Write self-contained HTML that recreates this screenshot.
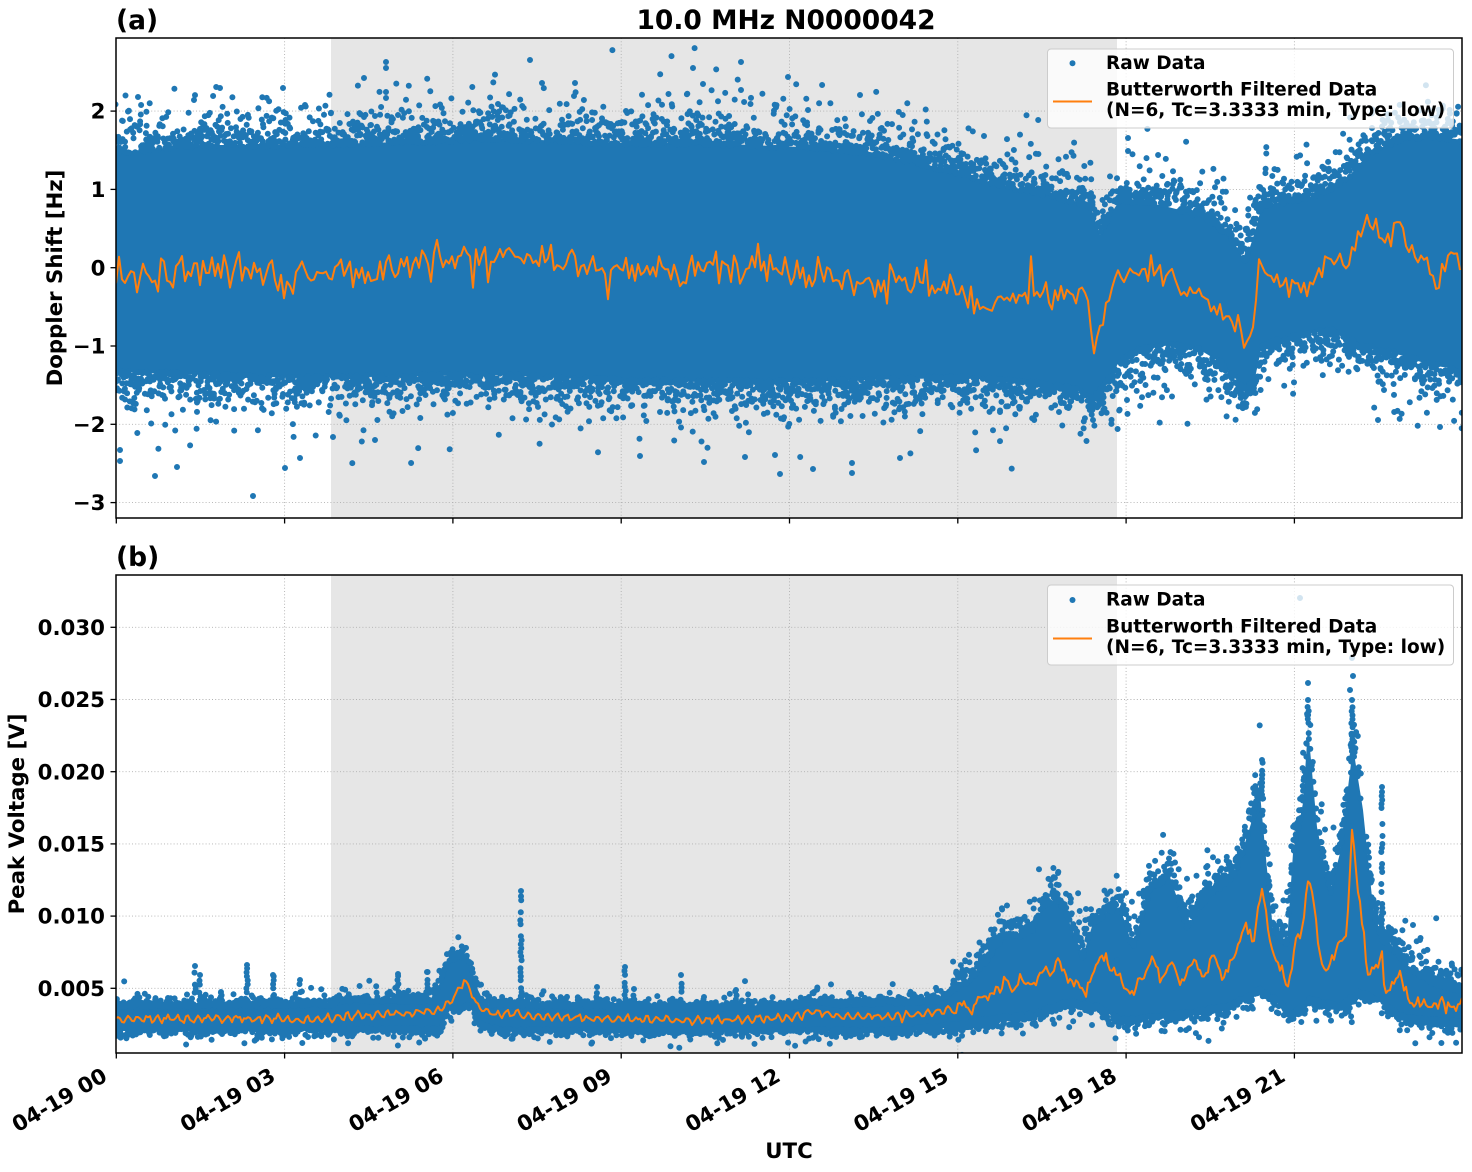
<!DOCTYPE html>
<html><head><meta charset="utf-8">
<style>
html,body{margin:0;padding:0;background:#fff;}
svg{display:block;}
text{font-family:"DejaVu Sans","Liberation Sans",sans-serif;font-weight:bold;fill:#000;}
</style></head><body>
<svg id="s" width="1472" height="1172" viewBox="0 0 1472 1172" xmlns="http://www.w3.org/2000/svg">
<defs>
<clipPath id="ca"><rect x="116" y="38" width="1346" height="480"/></clipPath>
<clipPath id="cb"><rect x="116" y="575" width="1346" height="478"/></clipPath>
</defs>
<rect width="1472" height="1172" fill="#fff"/>

<!-- ===== Panel A ===== -->
<rect x="331" y="38" width="786" height="480" fill="#e6e6e6"/>
<g stroke="#b0b0b0" stroke-width="0.9" stroke-dasharray="1,2.2" fill="none">
<line x1="284.6" y1="38" x2="284.6" y2="518"/><line x1="452.9" y1="38" x2="452.9" y2="518"/>
<line x1="621.2" y1="38" x2="621.2" y2="518"/><line x1="789.5" y1="38" x2="789.5" y2="518"/>
<line x1="957.8" y1="38" x2="957.8" y2="518"/><line x1="1126.1" y1="38" x2="1126.1" y2="518"/>
<line x1="1294.4" y1="38" x2="1294.4" y2="518"/>
<line x1="116" y1="111.1" x2="1462" y2="111.1"/><line x1="116" y1="189.4" x2="1462" y2="189.4"/>
<line x1="116" y1="267.7" x2="1462" y2="267.7"/><line x1="116" y1="346" x2="1462" y2="346"/>
<line x1="116" y1="424.3" x2="1462" y2="424.3"/><line x1="116" y1="502.6" x2="1462" y2="502.6"/>
</g>
<g clip-path="url(#ca)">
<polygon fill="#1f77b4" points="116,152 200,145 300,145 400,142 500,138 600,143 700,143 800,147 870,152 950,170 1000,185 1050,195 1090,205 1100,235 1110,215 1120,200 1160,205 1200,215 1230,235 1245,262 1255,232 1262,205 1300,200 1330,190 1350,175 1370,152 1400,140 1430,135 1462,140 1462,370 1430,365 1400,355 1360,345 1330,330 1300,335 1262,345 1255,378 1245,392 1235,378 1220,362 1200,350 1170,345 1140,350 1120,360 1110,378 1093,400 1080,390 1050,385 1000,380 950,378 870,380 800,382 700,382 600,380 500,375 300,378 116,372"/>
<path id="da" fill="#1f77b4" d=""/>
<polyline id="oa" fill="none" stroke="#ff7f0e" stroke-width="2" stroke-linejoin="round" points="116,272 200,270 300,272 400,268 450,262 500,250 550,260 600,268 700,270 750,268 800,272 850,280 900,283 950,290 973,303 990,305 1013,295 1047,297 1063,292 1083,295 1088,307 1093,345 1100,335 1113,283 1123,270 1143,270 1167,277 1197,293 1230,317 1240,335 1245,350 1252,335 1260,273 1283,283 1307,287 1330,263 1350,257 1367,223 1383,240 1403,220 1410,257 1423,253 1440,287 1450,253 1462,257"/>
</g>
<rect x="116" y="38" width="1346" height="480" fill="none" stroke="#000" stroke-width="1.5"/>
<g stroke="#000" stroke-width="1.3">
<line x1="110.5" y1="111.1" x2="116" y2="111.1"/><line x1="110.5" y1="189.4" x2="116" y2="189.4"/>
<line x1="110.5" y1="267.7" x2="116" y2="267.7"/><line x1="110.5" y1="346" x2="116" y2="346"/>
<line x1="110.5" y1="424.3" x2="116" y2="424.3"/><line x1="110.5" y1="502.6" x2="116" y2="502.6"/>
<line x1="116.3" y1="518" x2="116.3" y2="523.5"/><line x1="284.6" y1="518" x2="284.6" y2="523.5"/>
<line x1="452.9" y1="518" x2="452.9" y2="523.5"/><line x1="621.2" y1="518" x2="621.2" y2="523.5"/>
<line x1="789.5" y1="518" x2="789.5" y2="523.5"/><line x1="957.8" y1="518" x2="957.8" y2="523.5"/>
<line x1="1126.1" y1="518" x2="1126.1" y2="523.5"/><line x1="1294.4" y1="518" x2="1294.4" y2="523.5"/>
</g>
<g font-size="21.3" text-anchor="end">
<text x="105.5" y="118.7">2</text><text x="105.5" y="197">1</text><text x="105.5" y="275.3">0</text>
<text x="105.5" y="353.6">−1</text><text x="105.5" y="431.9">−2</text><text x="105.5" y="510.2">−3</text>
</g>
<text x="62" y="278" font-size="21.3" text-anchor="middle" transform="rotate(-90 62 278)">Doppler Shift [Hz]</text>
<text x="116" y="29" font-size="26.5">(a)</text>
<text x="786" y="29" font-size="26.5" text-anchor="middle">10.0 MHz N0000042</text>
<rect x="1047.5" y="49" width="406" height="79" rx="3.5" fill="#fff" fill-opacity="0.8" stroke="#cccccc" stroke-width="1"/>
<circle cx="1072.5" cy="63.3" r="3" fill="#1f77b4"/>
<line x1="1053" y1="101.5" x2="1092" y2="101.5" stroke="#ff7f0e" stroke-width="2"/>
<g font-size="18.5">
<text x="1106" y="69">Raw Data</text>
<text x="1106" y="95.3">Butterworth Filtered Data</text>
<text x="1106" y="116">(N=6, Tc=3.3333 min, Type: low)</text>
</g>

<!-- ===== Panel B ===== -->
<rect x="331" y="575" width="786" height="478" fill="#e6e6e6"/>
<g stroke="#b0b0b0" stroke-width="0.9" stroke-dasharray="1,2.2" fill="none">
<line x1="284.6" y1="575" x2="284.6" y2="1053"/><line x1="452.9" y1="575" x2="452.9" y2="1053"/>
<line x1="621.2" y1="575" x2="621.2" y2="1053"/><line x1="789.5" y1="575" x2="789.5" y2="1053"/>
<line x1="957.8" y1="575" x2="957.8" y2="1053"/><line x1="1126.1" y1="575" x2="1126.1" y2="1053"/>
<line x1="1294.4" y1="575" x2="1294.4" y2="1053"/>
<line x1="116" y1="627.3" x2="1462" y2="627.3"/><line x1="116" y1="699.5" x2="1462" y2="699.5"/>
<line x1="116" y1="771.7" x2="1462" y2="771.7"/><line x1="116" y1="843.9" x2="1462" y2="843.9"/>
<line x1="116" y1="916.1" x2="1462" y2="916.1"/><line x1="116" y1="988.3" x2="1462" y2="988.3"/>
</g>
<g clip-path="url(#cb)">
<polygon fill="#1f77b4" points="116,1005 331,1004 340,1000 430,1000 439,985 448,962 458,955 468,958 478,990 485,1004 600,1005 640,1008 790,1007 815,1000 840,1004 940,1000 954,988 968,982 983,965 994,949 1004,936 1018,936 1033,929 1043,906 1058,899 1068,919 1083,956 1093,923 1104,913 1120,907 1133,947 1150,887 1170,877 1187,927 1210,893 1233,877 1247,837 1260,793 1268,880 1273,930 1287,943 1293,853 1303,803 1308,727 1317,827 1330,893 1340,853 1353,747 1363,810 1373,907 1382,940 1390,943 1407,967 1433,983 1462,990 1462,1023 1420,1020 1400,1017 1380,1000 1360,993 1340,1007 1310,1000 1290,1017 1280,1003 1260,990 1230,1007 1160,1017 1133,1020 1118,1020 1100,1008 1068,1002 1033,1015 1000,1018 954,1026 900,1031 500,1031 480,1025 470,1007 450,1010 440,1030 331,1030 116,1031"/>
<path id="db" fill="#1f77b4" d=""/>
<polyline id="ob" fill="none" stroke="#ff7f0e" stroke-width="2" stroke-linejoin="round" points="116,1019 331,1019 350,1016 400,1014 440,1010 450,1003 458,990 464,981 470,990 478,1007 490,1013 530,1016 600,1019 700,1020 790,1018 815,1010 840,1017 900,1016 940,1012 954,1010 961,1003 972,1008 983,995 994,998 1006,979 1013,992 1022,979 1029,985 1036,980 1045,967 1051,979 1058,956 1067,979 1076,982 1086,992 1097,962 1104,959 1113,972 1120,975 1127,993 1133,990 1140,983 1152,960 1160,983 1172,957 1180,985 1195,958 1203,980 1213,952 1223,983 1237,947 1245,918 1253,943 1262,885 1270,943 1282,973 1288,985 1297,937 1303,923 1308,880 1313,893 1320,960 1327,973 1337,947 1347,933 1352,832 1357,883 1363,927 1368,973 1377,968 1382,953 1385,993 1393,987 1400,973 1408,1000 1420,1003 1433,1007 1443,1002 1453,1007 1462,1003"/>
</g>
<rect x="116" y="575" width="1346" height="478" fill="none" stroke="#000" stroke-width="1.5"/>
<g stroke="#000" stroke-width="1.3">
<line x1="110.5" y1="627.3" x2="116" y2="627.3"/><line x1="110.5" y1="699.5" x2="116" y2="699.5"/>
<line x1="110.5" y1="771.7" x2="116" y2="771.7"/><line x1="110.5" y1="843.9" x2="116" y2="843.9"/>
<line x1="110.5" y1="916.1" x2="116" y2="916.1"/><line x1="110.5" y1="988.3" x2="116" y2="988.3"/>
<line x1="116.3" y1="1053" x2="116.3" y2="1058.5"/><line x1="284.6" y1="1053" x2="284.6" y2="1058.5"/>
<line x1="452.9" y1="1053" x2="452.9" y2="1058.5"/><line x1="621.2" y1="1053" x2="621.2" y2="1058.5"/>
<line x1="789.5" y1="1053" x2="789.5" y2="1058.5"/><line x1="957.8" y1="1053" x2="957.8" y2="1058.5"/>
<line x1="1126.1" y1="1053" x2="1126.1" y2="1058.5"/><line x1="1294.4" y1="1053" x2="1294.4" y2="1058.5"/>
</g>
<g font-size="21.3" text-anchor="end">
<text x="105" y="634.9">0.030</text><text x="105" y="707.1">0.025</text><text x="105" y="779.3">0.020</text>
<text x="105" y="851.5">0.015</text><text x="105" y="923.7">0.010</text><text x="105" y="995.9">0.005</text>
</g>
<text x="24" y="814" font-size="21.3" text-anchor="middle" transform="rotate(-90 24 814)">Peak Voltage [V]</text>
<text x="116" y="566" font-size="26.5">(b)</text>
<g font-size="21.3" text-anchor="end">
<text x="108.6" y="1080" transform="rotate(-30 108.6 1080)">04-19 00</text>
<text x="276.9" y="1080" transform="rotate(-30 276.9 1080)">04-19 03</text>
<text x="445.2" y="1080" transform="rotate(-30 445.2 1080)">04-19 06</text>
<text x="613.5" y="1080" transform="rotate(-30 613.5 1080)">04-19 09</text>
<text x="781.8" y="1080" transform="rotate(-30 781.8 1080)">04-19 12</text>
<text x="950.1" y="1080" transform="rotate(-30 950.1 1080)">04-19 15</text>
<text x="1118.4" y="1080" transform="rotate(-30 1118.4 1080)">04-19 18</text>
<text x="1286.7" y="1080" transform="rotate(-30 1286.7 1080)">04-19 21</text>
</g>
<text x="789" y="1158" font-size="21.3" text-anchor="middle">UTC</text>
<rect x="1047.5" y="585" width="406" height="80" rx="3.5" fill="#fff" fill-opacity="0.8" stroke="#cccccc" stroke-width="1"/>
<circle cx="1072.5" cy="600" r="3" fill="#1f77b4"/>
<line x1="1053" y1="638.5" x2="1092" y2="638.5" stroke="#ff7f0e" stroke-width="2"/>
<g font-size="18.5">
<text x="1106" y="605.7">Raw Data</text>
<text x="1106" y="632.5">Butterworth Filtered Data</text>
<text x="1106" y="653">(N=6, Tc=3.3333 min, Type: low)</text>
</g>
</svg>
<script>
(function(){
var seed=24681;
function R(){seed|=0;seed=seed+0x6D2B79F5|0;var t=Math.imul(seed^seed>>>15,1|seed);t=t+Math.imul(t^t>>>7,61|t)^t;return((t^t>>>14)>>>0)/4294967296;}
function G(){var u=R()||1e-9,v=R();return Math.sqrt(-2*Math.log(u))*Math.cos(2*Math.PI*v);}
function E(){return -Math.log(R()||1e-9);}
function I(L,x){if(x<=L[0][0])return L[0][1];for(var i=1;i<L.length;i++){if(x<=L[i][0]){var a=L[i-1],b=L[i];return a[1]+(b[1]-a[1])*(x-a[0])/(b[0]-a[0]);}}return L[L.length-1][1];}
function C(x,y){return "M"+(x-3).toFixed(1)+" "+y.toFixed(1)+"a3 3 0 1 0 6 0a3 3 0 1 0 -6 0";}
var AT=[[116,152],[200,145],[300,145],[400,142],[500,138],[600,143],[700,143],[800,147],[870,152],[950,170],[1000,185],[1050,195],[1090,205],[1100,235],[1110,215],[1120,200],[1160,205],[1200,215],[1230,235],[1245,262],[1255,232],[1262,205],[1300,200],[1330,190],[1350,175],[1370,152],[1400,140],[1430,135],[1462,140]];
var AB=[[116,372],[300,378],[500,375],[600,380],[700,382],[800,382],[870,380],[950,378],[1000,380],[1050,385],[1080,390],[1093,400],[1110,378],[1120,360],[1140,350],[1170,345],[1200,350],[1220,362],[1235,378],[1245,392],[1255,378],[1262,345],[1300,335],[1330,330],[1360,345],[1400,355],[1430,365],[1462,370]];
var OA=[[116,272],[200,270],[300,272],[400,268],[450,262],[500,250],[550,260],[600,268],[700,270],[750,268],[800,272],[850,280],[900,283],[950,290],[973,303],[990,305],[1013,295],[1047,297],[1063,292],[1083,295],[1088,307],[1093,345],[1100,335],[1113,283],[1123,270],[1143,270],[1167,277],[1197,293],[1230,317],[1240,335],[1245,350],[1252,335],[1260,273],[1283,283],[1307,287],[1330,263],[1350,257],[1367,223],[1383,240],[1403,220],[1410,257],[1423,253],[1440,287],[1450,253],[1462,257]];
var BT=[[116,1005],[331,1004],[340,1000],[430,1000],[439,985],[448,962],[458,955],[468,958],[478,990],[485,1004],[600,1005],[640,1008],[790,1007],[815,1000],[840,1004],[940,1000],[954,988],[968,982],[983,965],[994,949],[1004,936],[1018,936],[1033,929],[1043,906],[1058,899],[1068,919],[1083,956],[1093,923],[1104,913],[1120,907],[1133,947],[1150,887],[1170,877],[1187,927],[1210,893],[1233,877],[1247,837],[1260,793],[1268,880],[1273,930],[1287,943],[1293,853],[1303,803],[1308,727],[1317,827],[1330,893],[1340,853],[1353,747],[1363,810],[1373,907],[1382,940],[1390,943],[1407,967],[1433,983],[1462,990]];
var BB=[[116,1031],[331,1030],[440,1030],[450,1010],[470,1007],[480,1025],[500,1031],[900,1031],[954,1026],[1000,1018],[1033,1015],[1068,1002],[1100,1008],[1118,1020],[1133,1020],[1160,1017],[1230,1007],[1260,990],[1280,1003],[1290,1017],[1310,1000],[1340,1007],[1360,993],[1380,1000],[1400,1017],[1420,1020],[1462,1023]];
var OB=[[116,1019],[331,1019],[350,1016],[400,1014],[440,1010],[450,1003],[458,990],[464,981],[470,990],[478,1007],[490,1013],[530,1016],[600,1019],[700,1020],[790,1018],[815,1010],[840,1017],[900,1016],[940,1012],[954,1010],[961,1003],[972,1008],[983,995],[994,998],[1006,979],[1013,992],[1022,979],[1029,985],[1036,980],[1045,967],[1051,979],[1058,956],[1067,979],[1076,982],[1086,992],[1097,962],[1104,959],[1113,972],[1120,975],[1127,993],[1133,990],[1140,983],[1152,960],[1160,983],[1172,957],[1180,985],[1195,958],[1203,980],[1213,952],[1223,983],[1237,947],[1245,918],[1253,943],[1262,885],[1270,943],[1282,973],[1288,985],[1297,937],[1303,923],[1308,880],[1313,893],[1320,960],[1327,973],[1337,947],[1347,933],[1352,832],[1357,883],[1363,927],[1368,973],[1377,968],[1382,953],[1385,993],[1393,987],[1400,973],[1408,1000],[1420,1003],[1433,1007],[1443,1002],[1453,1007],[1462,1003]];
try{
var d=[],x,k,t,b,y;
// Panel A speckle: exponential fall-off from dense edge
for(x=116;x<=1462;x++){t=I(AT,x);b=I(AB,x);
 for(k=0;k<3;k++){
  if(R()<0.6){y=t+2-E()*13;if(y>34)d.push(C(x+R()*2-1,y));}
  if(R()<0.6){y=b-2+E()*13;if(y<522)d.push(C(x+R()*2-1,y));}
 }}
var OUTA=[[138,97],[194,100],[220,88],[283,88],[305,105],[386,62],[386,68],[386,92],[386,98],[398,115],[498,104],[530,60],[542,83],[575,83],[574,96],[626,111],[693,68],[703,84],[741,62],[741,90],[788,77],[808,110],[860,95],[984,136],[1128,138],[1128,151],[1372,128],[1400,122],[1448,123],[120,450],[120,461],[155,476],[177,467],[253,496],[285,468],[300,458],[333,437],[375,440],[640,456],[704,462],[745,457],[775,455],[780,474],[813,469],[852,463],[852,473],[900,458],[1127,400],[1245,397],[1440,427],[1378,420],[1093,420],[1000,412]];
OUTA.forEach(function(p){d.push(C(p[0],p[1]));});
document.getElementById("da").setAttribute("d",d.join(""));
// Panel A orange
var p=[];
for(x=116;x<=1462;x+=3){var amp=x<950?9:6;var n=G();if(R()<0.05)n*=2;p.push(x.toFixed(1)+","+(I(OA,x)+amp*n).toFixed(1));}
document.getElementById("oa").setAttribute("points",p.join(" "));
// Panel B speckle
d=[];
for(x=116;x<=1462;x++){t=I(BT,x);b=I(BB,x);
 var su=x<950?(x>435&&x<485?5:3.5):10, sd=x<950?3:4.5, pr=x<950?0.45:0.65;
 for(k=0;k<3;k++){
  if(R()<pr){y=t+2-E()*su;if(y>572)d.push(C(x+R()*2-1,y));}
  if(R()<pr*0.8){y=b-2+E()*sd;if(y<1056)d.push(C(x+R()*2-1,y));}
 }}
var SP=[[168,998],[195,966],[200,975],[221,992],[247,965],[273,975],[300,980],[398,974],[427,972],[521,891],[597,987],[625,967],[634,989],[681,975],[704,997],[736,990],[1382,787],[1262,760],[1308,700],[1352,700],[1117,960],[1130,980]];
SP.forEach(function(s){var xx=s[0],bt=I(BT,xx);for(var yy=bt;yy>=s[1];yy-=4){if(R()<0.75)d.push(C(xx+(R()-0.5)*1.5,yy));}d.push(C(xx,s[1]));});
var OUTB=[[1300,598],[1308,683],[1352,658],[1353,676],[1262,775],[1350,690],[1058,873],[1051,880],[1413,925],[1420,940]];
OUTB.forEach(function(q){d.push(C(q[0],q[1]));});
document.getElementById("db").setAttribute("d",d.join(""));
// Panel B orange
p=[];
for(x=116;x<=1462;x+=2){var yb=I(OB,x);if(x<950){yb+=3*Math.sin(2*Math.PI*x/10)+1.2*G();}else{yb+=3*G();}p.push(x.toFixed(1)+","+yb.toFixed(1));}
document.getElementById("ob").setAttribute("points",p.join(" "));
}catch(e){}
})();
</script>
</body></html>
